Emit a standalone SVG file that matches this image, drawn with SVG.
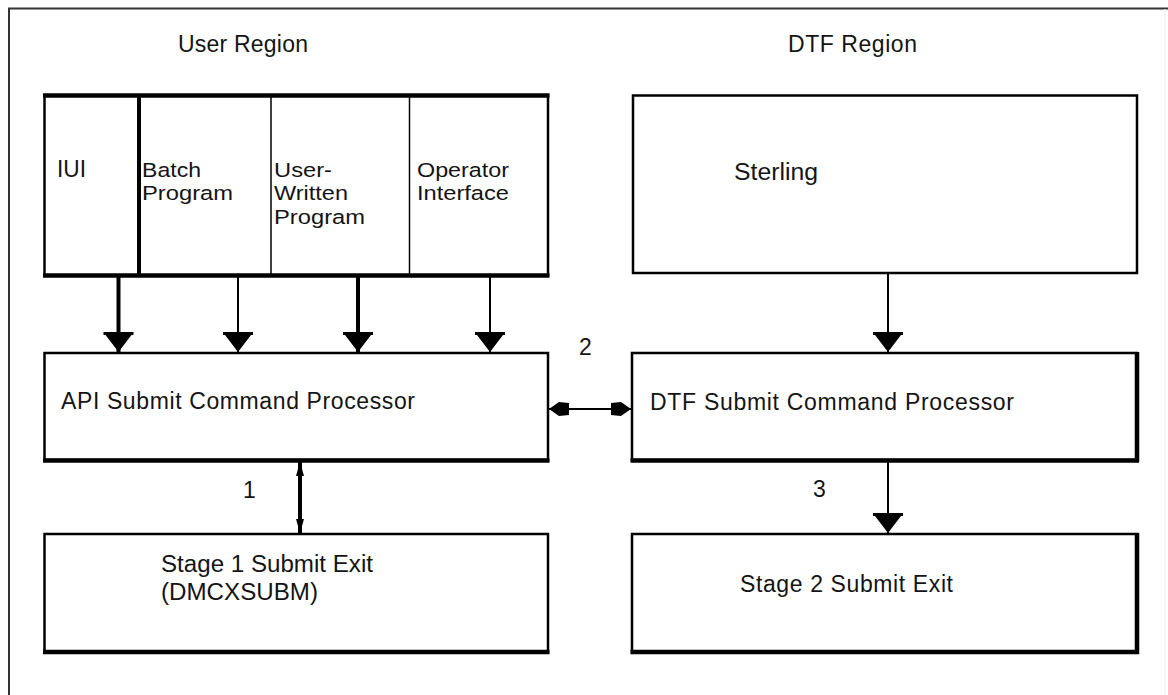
<svg xmlns="http://www.w3.org/2000/svg" width="1168" height="695" viewBox="0 0 1168 695">
<defs>
<style>
text{font-family:"Liberation Sans",Arial,sans-serif;font-size:23px;fill:#141414;}
.ml{font-size:20.5px;}
.box{fill:#fff;stroke:#000;stroke-width:2.5;}
.thk{fill:none;stroke:#000;stroke-width:4.5;}
.stem{stroke:#000;fill:none;}
</style>
<marker id="head" markerUnits="userSpaceOnUse" markerWidth="20" markerHeight="32" viewBox="0 -16 20 32" refX="20" refY="0" orient="auto">
<path d="M0,-15 L3,-15 L3,-13 L20,0 L3,13 L3,15 L0,15 Z" fill="#000"/>
</marker>
<marker id="small" markerUnits="userSpaceOnUse" markerWidth="20" markerHeight="16" viewBox="0 -8 20 16" refX="20" refY="0" orient="auto-start-reverse">
<path d="M0,-6 L10,-7 L20,0 L10,7 L0,6 Z" fill="#000"/>
</marker>
<marker id="tiny" markerUnits="userSpaceOnUse" markerWidth="14" markerHeight="12" viewBox="0 -6 14 12" refX="14" refY="0" orient="auto-start-reverse">
<path d="M0,-4 L14,0 L0,4 Z" fill="#000"/>
</marker>
</defs>
<rect width="1168" height="695" fill="#fff"/>
<g id="frame">
<path d="M9,720 L9,8.5 L1168,8.5" fill="none" stroke="#333" stroke-width="2"/>
<line x1="1165" y1="9" x2="1165" y2="720" stroke="#ececec" stroke-width="1"/>
</g>
<g id="region-labels">
<text x="178" y="52" textLength="130" lengthAdjust="spacing">User Region</text>
<text x="788" y="52" textLength="129" lengthAdjust="spacing">DTF Region</text>
</g>
<g id="user-programs">
<rect class="box" x="44.5" y="95.5" width="503.5" height="180" stroke-width="3"/>
<path class="thk" d="M43,95.5 H549.5 M43,275.5 H549.5"/>
<line x1="139" y1="95" x2="139" y2="276" stroke="#000" stroke-width="4"/>
<line x1="271" y1="95" x2="271" y2="276" stroke="#000" stroke-width="1.5"/>
<line x1="409.5" y1="95" x2="409.5" y2="276" stroke="#000" stroke-width="1.5"/>
<g id="iui"><text x="57" y="177" textLength="29" lengthAdjust="spacingAndGlyphs">IUI</text></g>
<g id="batch"><text class="ml" x="142" y="177" textLength="59" lengthAdjust="spacingAndGlyphs">Batch</text><text class="ml" x="142" y="200" textLength="91" lengthAdjust="spacingAndGlyphs">Program</text></g>
<g id="user-written"><text class="ml" x="274" y="177" textLength="58" lengthAdjust="spacingAndGlyphs">User-</text><text class="ml" x="274" y="200" textLength="74" lengthAdjust="spacingAndGlyphs">Written</text><text class="ml" x="274" y="224" textLength="91" lengthAdjust="spacingAndGlyphs">Program</text></g>
<g id="operator"><text class="ml" x="417" y="177" textLength="92" lengthAdjust="spacingAndGlyphs">Operator</text><text class="ml" x="417" y="200" textLength="92" lengthAdjust="spacingAndGlyphs">Interface</text></g>
</g>
<g id="sterling">
<rect class="box" x="633" y="95.5" width="504" height="177.5" stroke-width="4"/>
<text x="734" y="180" textLength="84" lengthAdjust="spacingAndGlyphs">Sterling</text>
</g>
<g id="api">
<rect class="box" x="44.5" y="353" width="503.5" height="107"/>
<path class="thk" d="M43,460.5 H549.5" stroke-width="4"/>
<text x="61" y="409" textLength="354" lengthAdjust="spacing">API Submit Command Processor</text>
</g>
<g id="dtf">
<rect class="box" x="632" y="353" width="505" height="107"/>
<path class="thk" d="M630.5,460.5 H1139 M1137,352 V462" stroke-width="4"/>
<text x="650" y="410" textLength="364" lengthAdjust="spacing">DTF Submit Command Processor</text>
</g>
<g id="stage1">
<rect class="box" x="44.5" y="534" width="503.5" height="118"/>
<path class="thk" d="M43,652 H549.5" stroke-width="4"/>
<text x="161" y="572" textLength="212" lengthAdjust="spacingAndGlyphs">Stage 1 Submit Exit</text>
<text x="161" y="600" textLength="157" lengthAdjust="spacingAndGlyphs">(DMCXSUBM)</text>
</g>
<g id="stage2">
<rect class="box" x="632" y="534" width="505" height="118"/>
<path class="thk" d="M630.5,652 H1139 M1137,533 V654" stroke-width="4"/>
<text x="740" y="592" textLength="213" lengthAdjust="spacing">Stage 2 Submit Exit</text>
</g>
<g id="connectors">
<line class="stem" x1="118.5" y1="277" x2="118.5" y2="352" stroke-width="4" marker-end="url(#head)"/>
<line class="stem" x1="238" y1="277" x2="238" y2="352" stroke-width="2" marker-end="url(#head)"/>
<line class="stem" x1="358" y1="277" x2="358" y2="352" stroke-width="4" marker-end="url(#head)"/>
<line class="stem" x1="490" y1="277" x2="490" y2="352" stroke-width="2" marker-end="url(#head)"/>
<line class="stem" x1="888" y1="274" x2="888" y2="352" stroke-width="2" marker-end="url(#head)"/>
<line class="stem" x1="888" y1="461" x2="888" y2="533" stroke-width="2" marker-end="url(#head)"/>
<line class="stem" x1="549" y1="409" x2="631" y2="409" stroke-width="2" marker-start="url(#small)" marker-end="url(#small)"/>
<line class="stem" x1="300" y1="462" x2="300" y2="533" stroke-width="4" marker-start="url(#tiny)" marker-end="url(#tiny)"/>
<text x="243" y="498">1</text>
<text x="579" y="355">2</text>
<text x="813" y="497">3</text>
</g>
</svg>
